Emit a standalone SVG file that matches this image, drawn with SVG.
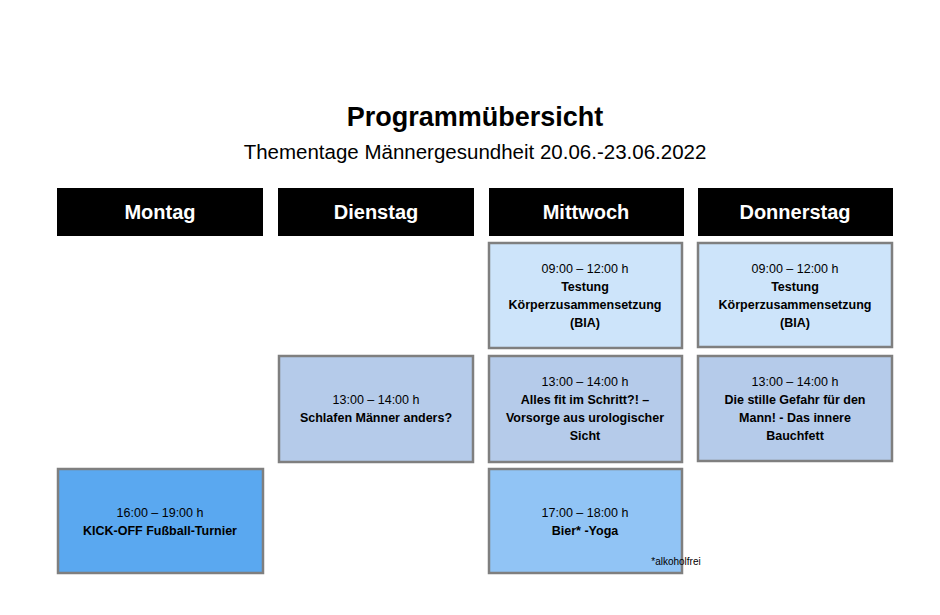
<svg xmlns="http://www.w3.org/2000/svg" width="940" height="615" viewBox="0 0 940 615">
<style>
text{font-family:"Liberation Sans",Arial,sans-serif;text-anchor:middle;fill:#000}
.h rect{fill:#000}
.h text{fill:#fff;font-weight:bold;font-size:20px}
.b rect{stroke:#7f7f7f;stroke-width:2.5}
.t{font-size:12.5px}
.bd{font-size:12.5px;font-weight:bold}
.c1{fill:#cde4fa}.c2{fill:#b5cbea}.c3{fill:#91c4f5}.c4{fill:#5aa8f0}
</style>
<rect width="940" height="615" fill="#fff"/>
<text x="475" y="126" font-size="27" font-weight="bold">Programmübersicht</text>
<text x="475" y="159" font-size="20.5">Thementage Männergesundheit 20.06.-23.06.2022</text>
<g id="h-montag" class="h"><rect x="57" y="188" width="206" height="48"/><text x="160" y="219">Montag</text></g>
<g id="h-dienstag" class="h"><rect x="278" y="188" width="196" height="48"/><text x="376" y="219">Dienstag</text></g>
<g id="h-mittwoch" class="h"><rect x="489" y="188" width="195" height="48"/><text x="586" y="219">Mittwoch</text></g>
<g id="h-donnerstag" class="h"><rect x="698" y="188" width="195" height="48"/><text x="795" y="219">Donnerstag</text></g>
<g id="mi1" class="b"><rect class="c1" x="489" y="243" width="193" height="105"/>
<text class="t" x="585" y="273">09:00 – 12:00 h</text><text class="bd" x="585" y="291">Testung</text><text class="bd" x="585" y="309">Körperzusammensetzung</text><text class="bd" x="585" y="327">(BIA)</text></g>
<g id="do1" class="b"><rect class="c1" x="698" y="243" width="194" height="104"/>
<text class="t" x="795" y="273">09:00 – 12:00 h</text><text class="bd" x="795" y="291">Testung</text><text class="bd" x="795" y="309">Körperzusammensetzung</text><text class="bd" x="795" y="327">(BIA)</text></g>
<g id="di2" class="b"><rect class="c2" x="279" y="356" width="194" height="106"/>
<text class="t" x="376" y="404">13:00 – 14:00 h</text><text class="bd" x="376" y="422">Schlafen Männer anders?</text></g>
<g id="mi2" class="b"><rect class="c2" x="489" y="356" width="193" height="106"/>
<text class="t" x="585" y="386">13:00 – 14:00 h</text><text class="bd" x="585" y="404">Alles fit im Schritt?! –</text><text class="bd" x="585" y="422">Vorsorge aus urologischer</text><text class="bd" x="585" y="440">Sicht</text></g>
<g id="do2" class="b"><rect class="c2" x="698" y="356" width="194" height="105"/>
<text class="t" x="795" y="386">13:00 – 14:00 h</text><text class="bd" x="795" y="404">Die stille Gefahr für den</text><text class="bd" x="795" y="422">Mann! - Das innere</text><text class="bd" x="795" y="440">Bauchfett</text></g>
<g id="mo3" class="b"><rect class="c4" x="58" y="469" width="205" height="104"/>
<text class="t" x="160" y="517">16:00 – 19:00 h</text><text class="bd" x="160" y="535">KICK-OFF Fußball-Turnier</text></g>
<g id="mi3" class="b"><rect class="c3" x="489" y="469" width="193" height="104"/>
<text class="t" x="585" y="517">17:00 – 18:00 h</text><text class="bd" x="585" y="535">Bier* -Yoga</text><text x="676" y="565" font-size="10" text-anchor="end">*alkoholfrei</text></g>
<g id="connectors"/>
</svg>
